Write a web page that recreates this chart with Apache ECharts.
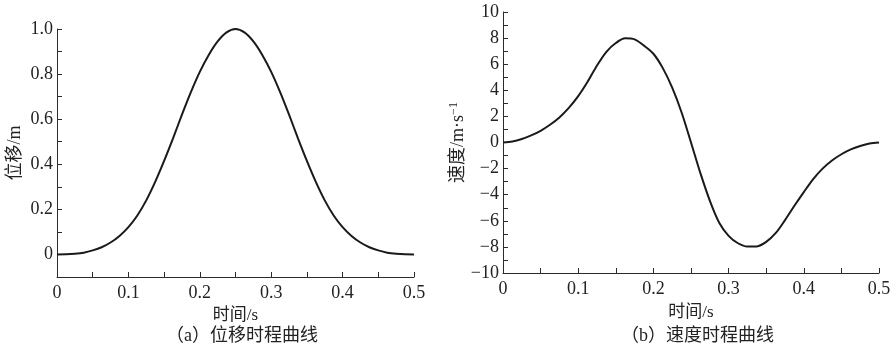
<!DOCTYPE html>
<html>
<head>
<meta charset="utf-8">
<script src="https://cdn.jsdelivr.net/npm/echarts@6/dist/echarts.min.js"></script>
<style>
  html, body { margin: 0; padding: 0; background: #fff; }
  #main { width: 896px; height: 355px; }
</style>
</head>
<body>
<div id="main"></div>
<script>
// values (time step 0.0125 s)
const time = [0, 0.0125, 0.025, 0.0375, 0.05, 0.0625, 0.075, 0.0875, 0.1, 0.1125,
  0.125, 0.1375, 0.15, 0.1625, 0.175, 0.1875, 0.2, 0.2125, 0.225, 0.2375,
  0.25, 0.2625, 0.275, 0.2875, 0.3, 0.3125, 0.325, 0.3375, 0.35, 0.3625,
  0.375, 0.3875, 0.4, 0.4125, 0.425, 0.4375, 0.45, 0.4625, 0.475, 0.4875, 0.5];
const disp = [0, 0.0005, 0.003, 0.008, 0.018, 0.032, 0.053, 0.082, 0.121, 0.173,
  0.24, 0.322, 0.415, 0.515, 0.62, 0.72, 0.81, 0.885, 0.945, 0.985,
  1.0, 0.985, 0.945, 0.885, 0.81, 0.72, 0.62, 0.515, 0.415, 0.322,
  0.24, 0.173, 0.121, 0.082, 0.053, 0.032, 0.018, 0.008, 0.003, 0.0005, 0];
const vel = [0, 0.08, 0.27, 0.55, 0.9, 1.36, 1.92, 2.65, 3.55, 4.65,
  5.9, 6.95, 7.62, 7.98, 7.9, 7.42, 6.8, 5.7, 4.2, 2.3,
  0, -2.35, -4.45, -6.15, -7.15, -7.72, -7.97, -7.96, -7.62, -6.95,
  -5.95, -4.85, -3.8, -2.8, -2.0, -1.38, -0.9, -0.53, -0.27, -0.08, 0];

const xTicks = ['0', '0.1', '0.2', '0.3', '0.4', '0.5'];
const dispTicks = ['0', '0.2', '0.4', '0.6', '0.8', '1.0'];
const velTicks = ['−10', '−8', '−6', '−4', '−2', '0', '2', '4', '6', '8', '10'];

const serif = "'Liberation Serif', 'Times New Roman', 'Noto Sans CJK SC', serif";
const axisColor = '#2b2b2b';

function pick(list, v) {
  // return the tick label that matches v, or '' for minor ticks
  for (const s of list) {
    if (Math.abs(parseFloat(s.replace('−', '-')) - v) < 1e-6) return s;
  }
  return '';
}

function xAxisOf(gridIndex, gap) {
  return {
    type: 'value',
    gridIndex: gridIndex,
    min: 0,
    max: 0.5,
    interval: 0.05,
    name: '时间/s',
    nameLocation: 'middle',
    nameGap: gap,
    nameTextStyle: { fontFamily: serif, fontSize: 17, color: '#222' },
    axisLine: { show: true, onZero: false, lineStyle: { color: axisColor, width: 1 } },
    axisTick: { show: true, inside: true, length: 5, lineStyle: { color: axisColor } },
    axisLabel: {
      fontFamily: serif, fontSize: 18, color: '#222', margin: 7,
      formatter: v => pick(xTicks, v)
    },
    splitLine: { show: false }
  };
}

const chart = echarts.init(document.getElementById('main'), null, { renderer: 'canvas' });

const option = {
  backgroundColor: '#fff',
  animation: false,
  grid: [
    { left: 57, top: 29, width: 357, height: 248 },
    { left: 503, top: 12, width: 376, height: 261 }
  ],
  xAxis: [xAxisOf(0, 27), xAxisOf(1, 31)],
  yAxis: [
    {
      type: 'value',
      gridIndex: 0,
      min: -0.1,
      max: 1.0,
      interval: 0.1,
      name: '位移/m',
      nameLocation: 'middle',
      nameGap: 33,
      nameTextStyle: { fontFamily: serif, fontSize: 18, color: '#222' },
      axisLine: { show: true, lineStyle: { color: axisColor, width: 1 } },
      axisTick: { show: true, inside: true, length: 5, lineStyle: { color: axisColor } },
      axisLabel: {
        fontFamily: serif, fontSize: 18, color: '#222', margin: 4,
        formatter: v => pick(dispTicks, v)
      },
      splitLine: { show: false }
    },
    {
      type: 'value',
      gridIndex: 1,
      min: -10,
      max: 10,
      interval: 1,
      name: '速度/m·s{sup|−1}',
      nameLocation: 'middle',
      nameGap: 25,
      nameTextStyle: {
        fontFamily: serif, fontSize: 18, color: '#222',
        rich: { sup: { fontFamily: serif, fontSize: 12, color: '#222', verticalAlign: 'top', padding: [0, 0, 9, 0] } }
      },
      axisLine: { show: true, lineStyle: { color: axisColor, width: 1 } },
      axisTick: { show: true, inside: true, length: 5, lineStyle: { color: axisColor } },
      axisLabel: {
        fontFamily: serif, fontSize: 18, color: '#222', margin: 4,
        formatter: v => pick(velTicks, v)
      },
      splitLine: { show: false }
    }
  ],
  graphic: [
    {
      type: 'text', left: 240 - 74, top: 327,
      style: { text: '（a）位移时程曲线', font: '18px ' + serif, fill: '#222' }
    },
    {
      type: 'text', left: 695 - 74, top: 327,
      style: { text: '（b）速度时程曲线', font: '18px ' + serif, fill: '#222' }
    }
  ],
  series: [
    {
      type: 'line',
      xAxisIndex: 0,
      yAxisIndex: 0,
      data: time.map((t, i) => [t, disp[i]]),
      smooth: 0.3,
      showSymbol: false,
      lineStyle: { color: '#1a1a1a', width: 2 }
    },
    {
      type: 'line',
      xAxisIndex: 1,
      yAxisIndex: 1,
      data: time.map((t, i) => [t, vel[i]]),
      smooth: 0.3,
      showSymbol: false,
      lineStyle: { color: '#1a1a1a', width: 2 }
    }
  ]
};

chart.setOption(option);
</script>
</body>
</html>
